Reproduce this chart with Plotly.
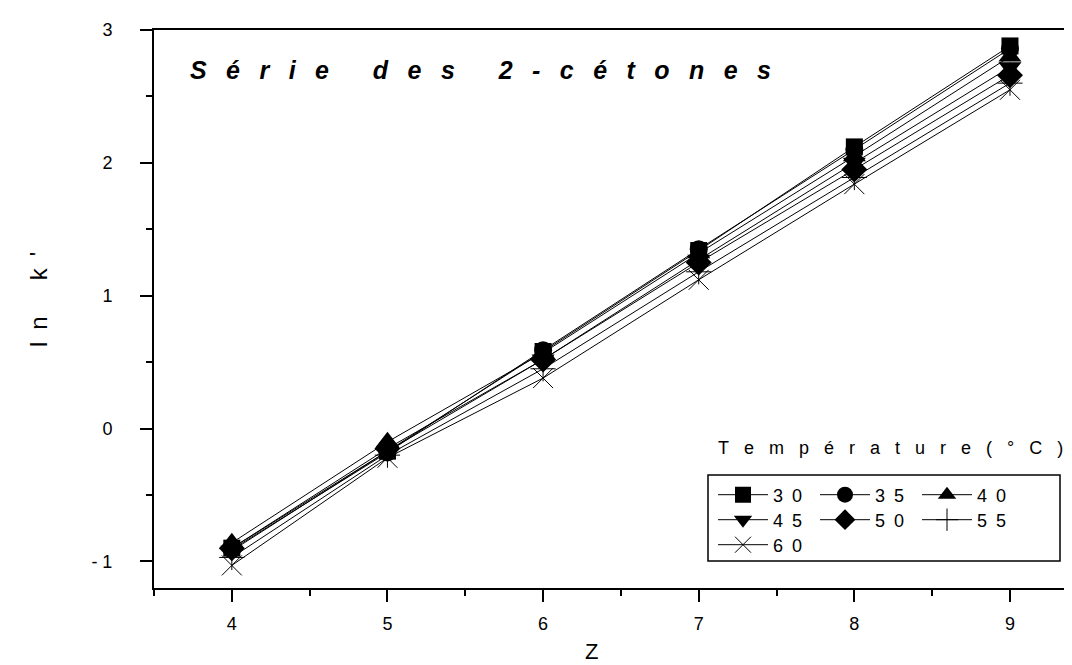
import plotly.graph_objects as go

z = [4, 5, 6, 7, 8, 9]
temperatures = ["30", "35", "40", "45", "50", "55", "60"]
lnk_30 = [-0.90, -0.17, 0.58, 1.34, 2.12, 2.88]
lnk_35 = [-0.91, -0.18, 0.59, 1.35, 2.10, 2.86]
lnk_40 = [-0.86, -0.10, 0.57, 1.32, 2.05, 2.80]
lnk_45 = [-0.92, -0.17, 0.52, 1.27, 2.00, 2.72]
lnk_50 = [-0.90, -0.15, 0.52, 1.25, 1.95, 2.66]
lnk_55 = [-0.97, -0.20, 0.45, 1.18, 1.89, 2.60]
lnk_60 = [-1.03, -0.22, 0.38, 1.12, 1.84, 2.55]
series = [lnk_30, lnk_35, lnk_40, lnk_45, lnk_50, lnk_55, lnk_60]

y_tickvals = [-1, 0, 1, 2, 3]
y_ticktext = ["- 1", "0", "1", "2", "3"]
x_tickvals = [4, 5, 6, 7, 8, 9]

symbols = ["square", "circle", "triangle-up", "triangle-down", "diamond", "cross-thin", "x-thin"]
sizes = [17, 18, 20, 20, 20, 18, 20]
legend_ids = ["legend", "legend", "legend", "legend2", "legend2", "legend2", "legend3"]

FONT = "Liberation Sans, Arial, sans-serif"
W, H = 1072, 665
L, R, T, B = 146, 0, 22, 85


def px(x):
    return (x - L) / (W - L - R)


def py(y):
    return (H - B - y) / (H - T - B)


fig = go.Figure()
for name, vals, sym, sz, lg in zip(temperatures, series, symbols, sizes, legend_ids):
    thin = sym.endswith("thin")
    fig.add_trace(go.Scatter(
        x=z, y=vals, mode="lines+markers",
        name="\u2002".join(name),
        legend=lg,
        line=dict(color="black", width=1),
        marker=dict(symbol=sym, size=sz, color="black",
                    line=dict(color="black", width=1 if thin else 0)),
    ))

fig.update_layout(
    width=W, height=H,
    margin=dict(l=L, r=R, t=T, b=B),
    paper_bgcolor="white", plot_bgcolor="white",
    font=dict(family=FONT, color="black", size=18),
    xaxis=dict(
        range=[3.5, 9.45], tickvals=x_tickvals, ticks="outside", ticklen=12,
        tickwidth=2, tickcolor="black", showline=True, linecolor="black",
        linewidth=2, mirror=True, showgrid=False, zeroline=False,
        tickfont=dict(size=18), ticklabelstandoff=6,
        minor=dict(dtick=0.5, tick0=3.5, ticks="outside", ticklen=6, tickwidth=2,
                   tickcolor="black", showgrid=False),
    ),
    yaxis=dict(
        range=[-1.2, 3.0], tickvals=y_tickvals, ticktext=y_ticktext,
        ticks="outside", ticklen=12, tickwidth=2, tickcolor="black",
        showline=True, linecolor="black", linewidth=2, showgrid=False,
        zeroline=False, tickfont=dict(size=18), ticklabelstandoff=24,
        minor=dict(dtick=0.5, tick0=-1.0, ticks="outside", ticklen=6, tickwidth=2,
                   tickcolor="black", showgrid=False),
    ),
)

leg_common = dict(orientation="h", font=dict(size=18, family=FONT), bgcolor="rgba(0,0,0,0)",
                  borderwidth=0, xanchor="left", yanchor="middle",
                  entrywidth=37, entrywidthmode="pixels", itemwidth=50,
                  tracegroupgap=0)
fig.update_layout(
    legend=dict(x=px(705), y=py(487), **leg_common),
    legend2=dict(x=px(705), y=py(512), **leg_common),
    legend3=dict(x=px(705), y=py(537), **leg_common),
)

fig.add_shape(type="rect", xref="paper", yref="paper",
              x0=px(700), x1=px(1052), y0=py(553), y1=py(467),
              line=dict(color="black", width=1.5), fillcolor="rgba(0,0,0,0)")

sp = "\u2002\u00a0"
title_words = ["Série", "des", "2-cétones"]
title_txt = (sp * 2 + "\u2009").join(sp.join(list(w)) for w in title_words)
fig.add_annotation(xref="paper", yref="paper", x=px(180), y=py(62),
                   xanchor="left", yanchor="middle", showarrow=False,
                   text="<b><i>" + title_txt + "</i></b>",
                   font=dict(size=25, family=FONT, color="black"))

leg_sp = "\u00a0\u00a0\u00a0"
fig.add_annotation(xref="paper", yref="paper", x=px(708), y=py(440),
                   xanchor="left", yanchor="middle", showarrow=False,
                   text=leg_sp.join(list("Température(°C)")),
                   font=dict(size=18, family=FONT, color="black"))

fig.add_annotation(xref="paper", yref="paper", x=px(30), y=py(292),
                   xanchor="center", yanchor="middle", showarrow=False,
                   textangle=-90, text="l\u2002n\u2002\u2002\u2002k\u2002'",
                   font=dict(size=24, family=FONT, color="black"))

fig.add_annotation(xref="paper", yref="paper", x=px(583), y=py(643),
                   xanchor="center", yanchor="middle", showarrow=False,
                   text="Z", font=dict(size=22, family=FONT, color="black"))

fig.write_html("out.html")
